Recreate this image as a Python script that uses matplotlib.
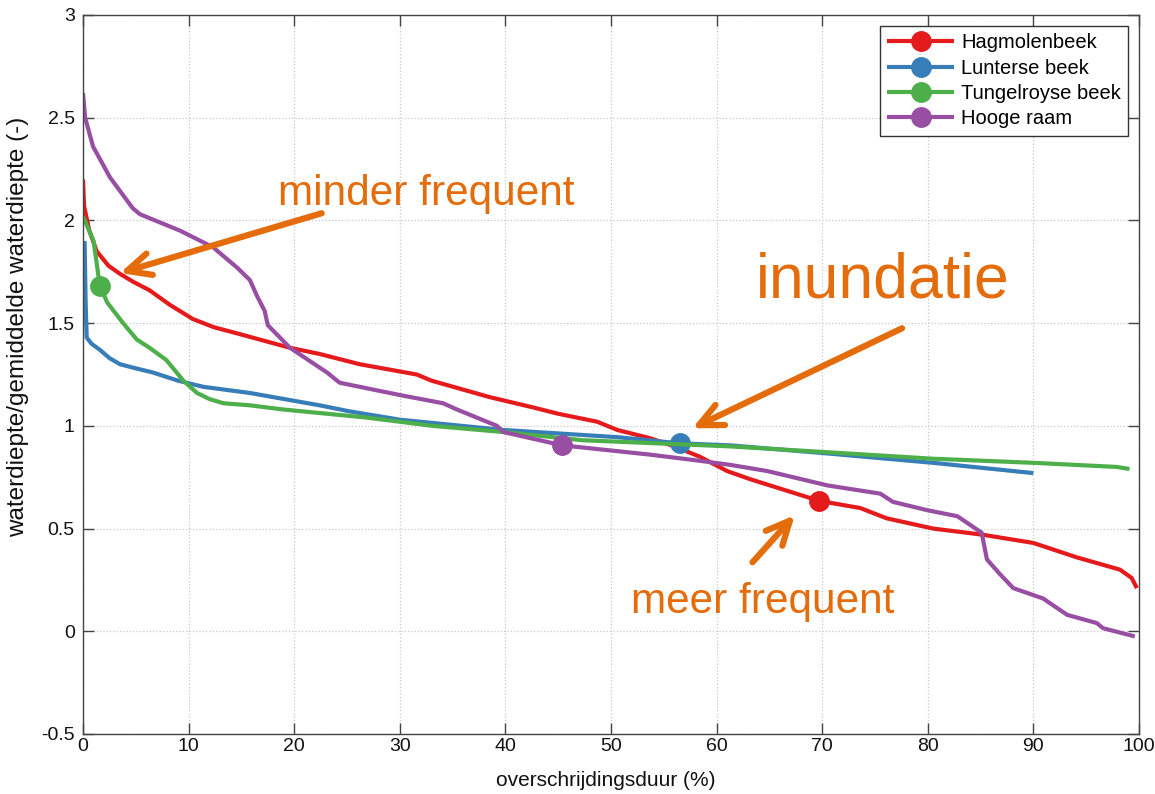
import matplotlib
matplotlib.use("Agg")
import matplotlib.pyplot as plt

plt.rcParams['font.family'] = ['Liberation Sans', 'DejaVu Sans']
plt.rcParams['axes.unicode_minus'] = False

# ---- data ----
series_names = ["Hagmolenbeek", "Lunterse beek", "Tungelroyse beek", "Hooge raam"]
series_colors = ["#E41A1C", "#377EB8", "#4DAF4A", "#984EA3"]

hag_x = [0, 0.1, 0.6, 1.3, 2.4, 3.5, 4.8, 6.3, 8.2, 10.4, 12.4, 14.6, 19.6, 22.4, 26.2, 31.6,
         33.0, 38.5, 42.6, 44.9, 48.7, 50.6, 53.7, 56.0, 58.4, 61.0, 63.2, 66.3, 69.7, 73.6,
         76.1, 80.5, 85.2, 90.0, 94.1, 98.2, 99.3, 99.8]
hag_y = [2.20, 2.07, 1.95, 1.85, 1.78, 1.74, 1.70, 1.66, 1.59, 1.52, 1.48, 1.45, 1.38, 1.35,
         1.30, 1.25, 1.22, 1.14, 1.09, 1.06, 1.02, 0.98, 0.94, 0.90, 0.85, 0.78, 0.74, 0.69,
         0.635, 0.60, 0.55, 0.50, 0.47, 0.43, 0.36, 0.30, 0.26, 0.21]
hag_mark = 28

lun_x = [0.15, 0.25, 0.35, 0.8, 1.6, 2.5, 3.5, 5.0, 6.6, 9.0, 11.4, 15.8, 22.4, 25.3, 30.0,
         39.8, 50.6, 56.5, 61.3, 70.0, 80.5, 90.0]
lun_y = [1.90, 1.60, 1.43, 1.40, 1.37, 1.33, 1.30, 1.28, 1.26, 1.22, 1.19, 1.16, 1.10, 1.07,
         1.03, 0.98, 0.945, 0.915, 0.905, 0.868, 0.82, 0.77]
lun_mark = 17

tun_x = [0, 1.0, 1.6, 2.3, 3.8, 5.1, 6.3, 7.9, 9.5, 10.8, 12.0, 13.3, 15.8, 18.9, 26.9, 33.1,
         39.8, 47.3, 61.3, 71.0, 80.5, 90.0, 97.9, 99.1]
tun_y = [2.02, 1.90, 1.68, 1.60, 1.50, 1.42, 1.38, 1.32, 1.22, 1.16, 1.13, 1.11, 1.10, 1.08,
         1.04, 1.00, 0.97, 0.93, 0.90, 0.87, 0.84, 0.82, 0.80, 0.79]
tun_mark = 2

hoo_x = [0, 0.2, 0.95, 2.55, 4.7, 5.4, 9.2, 12.3, 14.6, 15.8, 16.5, 17.2, 17.5, 19.6, 23.1,
         24.3, 30.0, 34.1, 35.4, 39.2, 39.8, 45.4, 53.7, 58.4, 61.3, 64.8, 70.5, 75.5, 76.7,
         79.9, 82.8, 85.1, 85.6, 86.8, 88.1, 90.9, 93.2, 96.0, 96.6, 99.6]
hoo_y = [2.62, 2.50, 2.36, 2.21, 2.06, 2.03, 1.95, 1.87, 1.77, 1.71, 1.63, 1.56, 1.49, 1.38,
         1.26, 1.21, 1.15, 1.11, 1.08, 1.00, 0.97, 0.905, 0.86, 0.83, 0.81, 0.78, 0.71, 0.67,
         0.63, 0.59, 0.56, 0.48, 0.35, 0.28, 0.21, 0.16, 0.08, 0.04, 0.015, -0.025]
hoo_mark = 21

x_ticks = [0, 10, 20, 30, 40, 50, 60, 70, 80, 90, 100]
x_ticklabels = ["0", "10", "20", "30", "40", "50", "60", "70", "80", "90", "100"]
y_ticks = [-0.5, 0, 0.5, 1, 1.5, 2, 2.5, 3]
y_ticklabels = ["-0.5", "0", "0.5", "1", "1.5", "2", "2.5", "3"]

x_label = "overschrijdingsduur (%)"
y_label = "waterdiepte/gemiddelde waterdiepte (-)"

ann_color = "#E46C0A"
# annotation text (x, y) in data coords, arrows (tail -> head)
ann_texts = ["minder frequent", "inundatie", "meer frequent"]
ann_text_pos = [(18.47, 2.074), (63.73, 1.626), (51.89, 0.0876)]
ann_text_size = [30.5, 45, 30.5]
ann_arrow_tail = [(22.6, 2.035), (77.56, 1.475), (63.4, 0.336)]
ann_arrow_head = [(3.5, 1.744), (57.7, 0.988), (67.4, 0.565)]

# ---- figure ----
W, H = 1155, 794
fig = plt.figure(figsize=(W / 100, H / 100), dpi=100)
ax = fig.add_axes([83 / W, 1 - 734 / H, (1139 - 83) / W, (734 - 15) / H])

all_x = [hag_x, lun_x, tun_x, hoo_x]
all_y = [hag_y, lun_y, tun_y, hoo_y]
marks = [hag_mark, lun_mark, tun_mark, hoo_mark]
for xs, ys, mk, name, col in zip(all_x, all_y, marks, series_names, series_colors):
    ax.plot(xs, ys, color=col, lw=3, marker='o', markersize=14, markevery=[mk],
            label=name, solid_joinstyle='round', solid_capstyle='butt')

ax.set_xlim(0, 100)
ax.set_ylim(-0.5, 3)
ax.set_xticks(x_ticks)
ax.set_xticklabels(x_ticklabels)
ax.set_yticks(y_ticks)
ax.set_yticklabels(y_ticklabels)
ax.tick_params(direction='in', length=8, width=1, color='#444444', labelsize=14,
               top=True, right=True, labelcolor='#111111')
ax.tick_params(axis='x', pad=3)
ax.tick_params(axis='y', pad=6)
for sp in ax.spines.values():
    sp.set_color('#444444')
    sp.set_linewidth(1.0)
ax.grid(True, linestyle=':', color='#c8c8c8', linewidth=0.9)
ax.set_axisbelow(True)

fig.text(606 / W, 1 - 781 / H, x_label, ha='center', va='center', fontsize=15, color='#111111')
fig.text(18.5 / W, 1 - 327 / H, y_label, ha='center', va='center', rotation=90,
         fontsize=17.5, color='#111111')

leg = ax.legend(loc='upper right', fontsize=14.5, frameon=True, fancybox=False,
                edgecolor='#333333', framealpha=1, handlelength=3.3, handletextpad=0.35,
                labelspacing=0.32, borderpad=0.35, borderaxespad=0.55)
leg.get_frame().set_linewidth(1.0)

for txt, pos, fs in zip(ann_texts, ann_text_pos, ann_text_size):
    ax.text(pos[0], pos[1], txt, color=ann_color, fontsize=fs, ha='left', va='baseline')

for tail, head in zip(ann_arrow_tail, ann_arrow_head):
    ax.annotate("", xy=head, xytext=tail,
                arrowprops=dict(arrowstyle='->,head_length=0.85,head_width=0.4',
                                color=ann_color, lw=4.5, mutation_scale=20,
                                shrinkA=0, shrinkB=0))

fig.savefig("out.png", dpi=100)
